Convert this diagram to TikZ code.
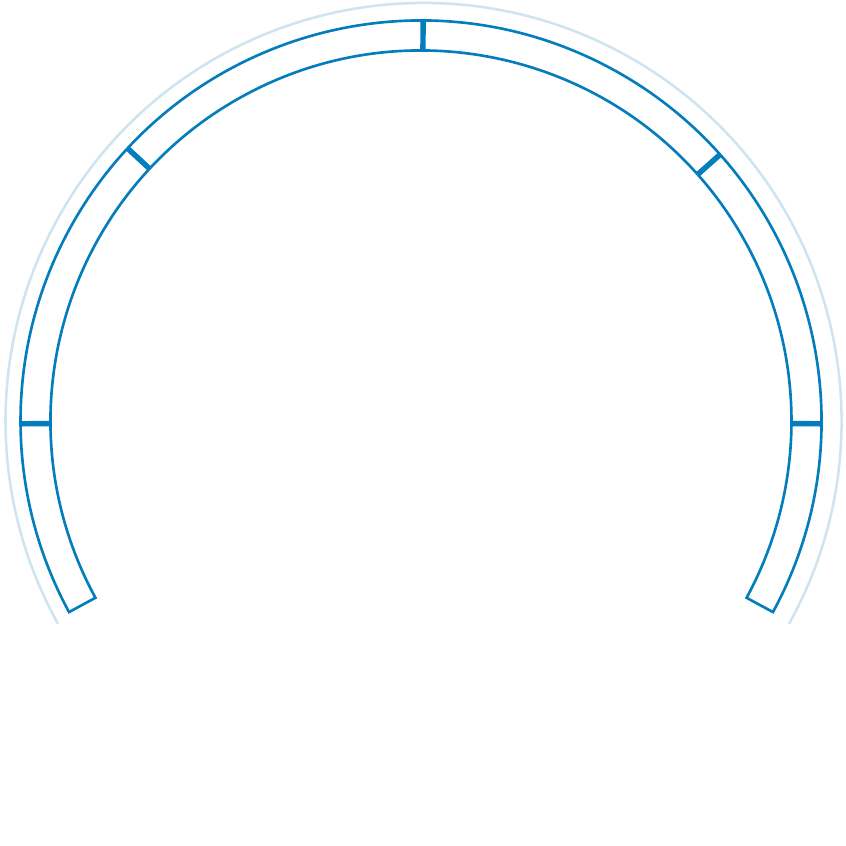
\documentclass[tikz,border=0pt]{standalone}
\usetikzlibrary{calc}
\definecolor{gaugeblue}{RGB}{4,125,189}
\definecolor{gaugehalo}{RGB}{206,228,240}
\tikzset{
  halo/.style={draw=gaugehalo,line width=0.72pt},
  band/.style={draw=gaugeblue,line width=0.75pt,line join=miter},
  tickmark/.style={draw=gaugeblue,line width=1.55pt},
}

\begin{document}
\begin{tikzpicture}
  \useasboundingbox (-4.21,-4.25) rectangle (4.25,4.21);
  % outer halo
  \coordinate (hc) at (0.025,0);
  \draw[halo] ($(hc)+(-29:4.18)$) arc[start angle=-29,end angle=209,radius=4.18];
  % band
  \coordinate (c) at (0,0);
  \draw[band] (-28.5:4.005) arc[start angle=-28.5,end angle=208.5,radius=4.005]
    -- (208.5:3.705) arc[start angle=208.5,end angle=-28.5,radius=3.705] -- cycle;
  % ticks
  \foreach \a in {180.4,137.1,89.7,41.7,-0.4}
    \draw[tickmark] (\a:3.705) -- (\a:4.005);
\end{tikzpicture}
\end{document}
